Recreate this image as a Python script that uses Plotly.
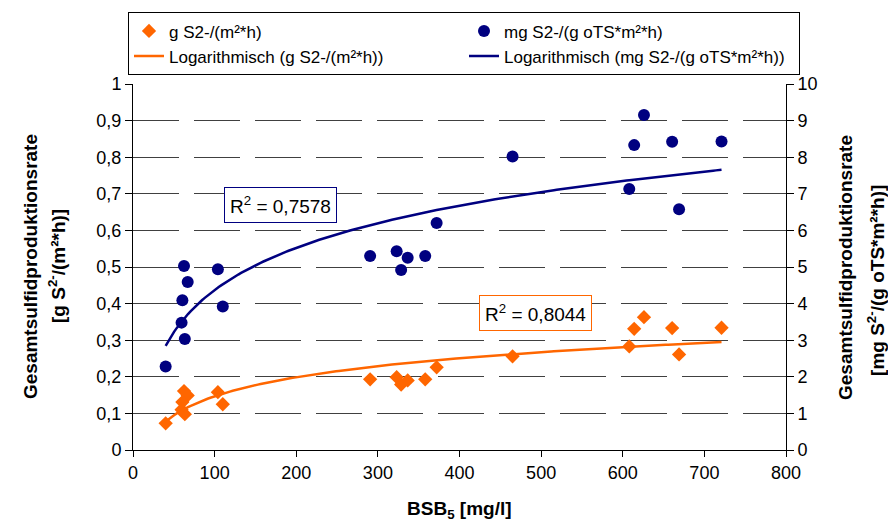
import numpy as np
import plotly.graph_objects as go

# BSB5 [mg/l]
bsb5 = [40, 62.5, 67, 60.5, 59.5, 63.5, 104, 110, 290.5, 323, 328.5, 336.5, 358, 372,
        465, 608, 614, 626, 660.5, 669, 721]
# g S2-/(m²*h)  (left axis)
rate_area = [0.073, 0.161, 0.149, 0.131, 0.110, 0.098, 0.158, 0.125, 0.193, 0.199, 0.179,
             0.190, 0.193, 0.226, 0.256, 0.283, 0.331, 0.363, 0.333, 0.261, 0.334]
# mg S2-/(g oTS*m²*h)  (right axis)
rate_ots = [2.28, 5.03, 4.59, 4.09, 3.48, 3.03, 4.94, 3.92, 5.30, 5.43, 4.92,
            5.25, 5.30, 6.20, 8.02, 7.13, 8.33, 9.15, 8.42, 6.58, 8.43]

r2_area = "0,8044"
r2_ots = "0,7578"

ORANGE = "#FF6600"
NAVY = "#000080"
FONT = "Liberation Sans, Arial, sans-serif"

x = np.array(bsb5, dtype=float)
lx = np.log(x)
a1, b1 = np.polyfit(lx, np.array(rate_area), 1)
a2, b2 = np.polyfit(lx, np.array(rate_ots), 1)
xf = np.linspace(x.min(), x.max(), 200)

fig = go.Figure()
fig.add_trace(go.Scatter(x=bsb5, y=rate_area, mode="markers", name="g S2-/(m²*h)",
                         marker=dict(symbol="diamond", size=11, color=ORANGE)))
fig.add_trace(go.Scatter(x=bsb5, y=rate_ots, mode="markers", yaxis="y2",
                         name="mg S2-/(g oTS*m²*h)",
                         marker=dict(symbol="circle", size=12, color=NAVY)))
fig.add_trace(go.Scatter(x=xf, y=a1 * np.log(xf) + b1, mode="lines",
                         name="Logarithmisch (g S2-/(m²*h))",
                         line=dict(color=ORANGE, width=2.5)))
fig.add_trace(go.Scatter(x=xf, y=a2 * np.log(xf) + b2, mode="lines", yaxis="y2",
                         name="Logarithmisch (mg S2-/(g oTS*m²*h))",
                         line=dict(color=NAVY, width=2.5)))

W, H = 888, 526
L, R, T, B = 133, 102, 82, 76


def paper_x(px):
    return (px - L) / (W - L - R)


def paper_y(py):
    return (H - B - py) / (H - T - B)


def title_ann(px, py, text, angle):
    return dict(x=paper_x(px), y=paper_y(py), xref="paper", yref="paper", text=text,
                textangle=angle, showarrow=False, xanchor="center", yanchor="middle",
                font=dict(size=19, color="black"))


ann = [
    dict(x=181, y=0.670, xref="x", yref="y", text="R<sup>2</sup> = " + r2_ots,
         showarrow=False, bordercolor=NAVY, borderwidth=1, borderpad=5, bgcolor="white",
         xanchor="center", yanchor="middle", font=dict(size=19, color="black")),
    dict(x=493, y=0.374, xref="x", yref="y", text="R<sup>2</sup> = " + r2_area,
         showarrow=False, bordercolor=ORANGE, borderwidth=1, borderpad=5, bgcolor="white",
         xanchor="center", yanchor="middle", font=dict(size=19, color="black")),
    title_ann(30, 266, "<b>Gesamtsulfidproduktionsrate</b>", -90),
    title_ann(57, 265, "<b>[g S<sup>2-</sup>/(m²*h)]</b>", -90),
    title_ann(846, 267, "<b>Gesamtsulfidproduktionsrate</b>", -90),
    title_ann(876, 280, "<b>[mg S<sup>2-</sup>/(g oTS*m²*h)]</b>", -90),
    title_ann(459, 510, "<b>BSB<sub>5</sub> [mg/l]</b>", 0),
]

fig.update_layout(
    width=W, height=H,
    margin=dict(l=L, r=R, t=T, b=B, pad=0),
    paper_bgcolor="white", plot_bgcolor="white",
    separators=", ",
    font=dict(family=FONT, size=18, color="black"),
    showlegend=True,
    legend=dict(orientation="h", x=paper_x(128), y=paper_y(10),
                xanchor="left", yanchor="top", entrywidth=290, entrywidthmode="pixels",
                bordercolor="black", borderwidth=1, bgcolor="white",
                font=dict(size=17, family=FONT)),
    xaxis=dict(range=[0, 800], dtick=100, tick0=0, showgrid=False, zeroline=False,
               showline=True, linecolor="black", linewidth=1, ticks="outside",
               ticklen=6, tickcolor="black", tickfont=dict(size=18)),
    yaxis=dict(range=[0, 1], dtick=0.1, tick0=0, showgrid=True, gridcolor="#404040",
               griddash="46px,15px", gridwidth=1, zeroline=False,
               showline=True, linecolor="black", linewidth=1, ticks="outside",
               ticklen=7, tickcolor="black", tickfont=dict(size=18)),
    yaxis2=dict(range=[0, 10], dtick=1, tick0=0, overlaying="y", side="right",
                showgrid=False, zeroline=False, showline=True, linecolor="black",
                linewidth=1, ticks="outside", ticklen=7, tickcolor="black",
                tickfont=dict(size=18)),
    annotations=ann,
)

fig.write_html("out.html")
